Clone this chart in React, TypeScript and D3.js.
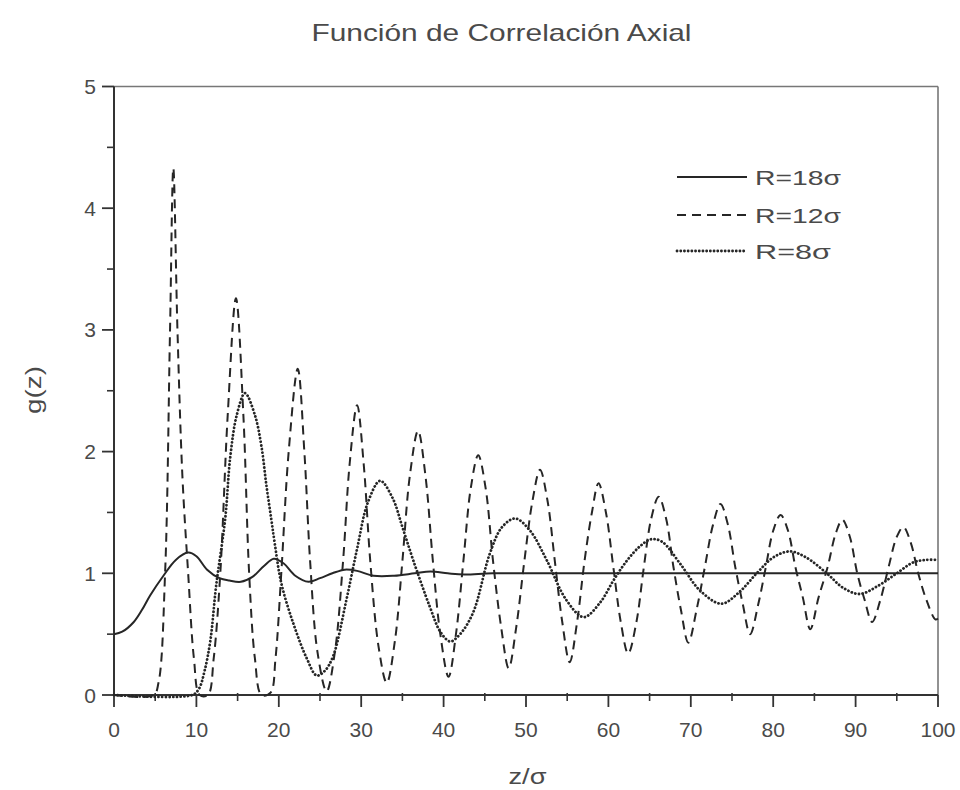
import React from "react";
import * as d3 from "d3";

// Axial correlation function g(z) for three cylinder radii.
const xTickValues = [0, 10, 20, 30, 40, 50, 60, 70, 80, 90, 100];
const xMinorValues = [5, 15, 25, 35, 45, 55, 65, 75, 85, 95];
const yTickValues = [0, 1, 2, 3, 4, 5];
const yMinorValues = [0.5, 1.5, 2.5, 3.5, 4.5];

const seriesNames = ["R=18σ", "R=12σ", "R=8σ"];

// R = 18σ : [z/σ, g(z)]
const r18: [number, number][] = [
  [0, 0.5], [1, 0.52], [2.4, 0.6], [3.4, 0.7], [4.4, 0.82], [6, 0.98], [7.5, 1.11], [9, 1.17],
  [10, 1.14], [11.3, 1.03], [12.8, 0.96], [14, 0.94], [15.4, 0.93], [16.8, 0.97], [18.2, 1.06],
  [19.4, 1.12], [20.6, 1.08], [22, 0.98], [23.6, 0.93], [25, 0.96], [26.5, 1.0], [28, 1.03],
  [29.5, 1.02], [31.5, 0.98], [34, 0.98], [36.5, 1.0], [38.4, 1.015], [40.5, 1.0], [42.5, 0.99],
  [46, 1.0], [55, 1.0], [70, 1.0], [85, 1.0], [100, 1.0],
];

// R = 12σ : [z/σ, g(z)]
const r12: [number, number][] = [
  [0, 0], [4.8, 0], [5.4, 0.1], [6.2, 1.0], [6.8, 3.0], [7.2, 4.33], [7.7, 3.0], [8.3, 1.8],
  [9.0, 1.0], [9.7, 0.3], [10.4, 0], [11.4, 0], [12.1, 0.3], [12.9, 1.0], [13.8, 2.3],
  [14.8, 3.26], [15.7, 2.3], [16.4, 1.0], [17.1, 0.3], [17.9, 0], [19.0, 0.02], [19.6, 0.3],
  [20.3, 1.0], [21.2, 2.0], [22.3, 2.68], [23.1, 2.0], [23.8, 1.1], [24.7, 0.35], [25.8, 0.03],
  [26.8, 0.35], [27.8, 1.1], [28.6, 1.9], [29.5, 2.38], [30.3, 1.9], [31.1, 1.1], [32.1, 0.4],
  [33.1, 0.1], [34.1, 0.45], [35.0, 1.1], [35.9, 1.8], [36.9, 2.17], [37.8, 1.8], [38.7, 1.1],
  [39.6, 0.5], [40.6, 0.15], [41.5, 0.5], [42.4, 1.1], [43.3, 1.7], [44.2, 1.97], [45.1, 1.7],
  [46.0, 1.1], [47.0, 0.55], [47.9, 0.22], [48.8, 0.55], [49.8, 1.1], [50.8, 1.6], [51.7, 1.85],
  [52.6, 1.6], [53.5, 1.1], [54.4, 0.6], [55.3, 0.27], [56.2, 0.6], [57.1, 1.1], [58.0, 1.5],
  [58.8, 1.74], [59.7, 1.5], [60.6, 1.05], [61.5, 0.6], [62.4, 0.34], [63.4, 0.6], [64.3, 1.05],
  [65.2, 1.45], [66.1, 1.63], [67.0, 1.45], [67.9, 1.05], [68.8, 0.7], [69.7, 0.43], [70.7, 0.7],
  [71.7, 1.05], [72.7, 1.4], [73.6, 1.57], [74.5, 1.4], [75.4, 1.05], [76.3, 0.75], [77.2, 0.5],
  [78.2, 0.75], [79.1, 1.05], [80.0, 1.35], [80.9, 1.48], [81.8, 1.35], [82.7, 1.05], [83.6, 0.8],
  [84.5, 0.54], [85.5, 0.8], [86.6, 1.05], [87.6, 1.33], [88.4, 1.44], [89.3, 1.3], [90.2, 1.0],
  [91.1, 0.78], [92.0, 0.6], [93.0, 0.78], [94.0, 1.05], [95.0, 1.3], [95.8, 1.38], [96.7, 1.25],
  [97.6, 1.0], [98.6, 0.78], [99.7, 0.62], [100, 0.63],
];

// R = 8σ : [z/σ, g(z)]
const r8: [number, number][] = [
  [0, 0], [9.5, 0], [10.3, 0.05], [11.0, 0.2], [11.7, 0.45], [12.4, 0.9], [13.5, 1.45],
  [14.1, 1.95], [14.9, 2.3], [15.9, 2.48], [17.1, 2.3], [17.9, 2.04], [18.5, 1.72], [19.1, 1.44],
  [19.5, 1.25], [20.3, 0.92], [21.8, 0.58], [23.4, 0.3], [24.6, 0.16], [25.6, 0.2], [26.6, 0.32],
  [28.2, 0.78], [29.5, 1.2], [30.8, 1.58], [32.3, 1.76], [33.8, 1.62], [35.0, 1.38], [36.3, 1.11],
  [38.3, 0.73], [39.6, 0.52], [40.8, 0.44], [42.0, 0.5], [43.6, 0.68], [45.6, 1.16], [47.1, 1.38],
  [48.7, 1.45], [50.5, 1.35], [52.5, 1.11], [54.9, 0.78], [57.0, 0.64], [59.0, 0.76], [60.6, 0.94],
  [62.2, 1.1], [63.8, 1.22], [65.2, 1.28], [66.5, 1.26], [68.7, 1.08], [71.1, 0.86], [73.7, 0.75],
  [75.8, 0.84], [78.0, 1.0], [80.0, 1.13], [82.0, 1.18], [84.0, 1.13], [86.5, 1.0], [88.5, 0.88],
  [90.5, 0.83], [92.8, 0.9], [95.0, 1.0], [97.0, 1.09], [98.5, 1.11], [100, 1.11],
];

const W = 960;
const H = 790;
const plot = { left: 114, right: 938, top: 86.5, bottom: 695 };

const FONT = "'Liberation Sans', Arial, Helvetica, sans-serif";
const TEXT = "#4a4a4a";
const INK = "#262626";

export default function App() {
  const x = d3.scaleLinear().domain([0, 100]).range([plot.left, plot.right]);
  const y = d3.scaleLinear().domain([0, 5]).range([plot.bottom, plot.top]);

  const line = d3
    .line<[number, number]>()
    .x((d) => x(d[0]))
    .y((d) => y(d[1]))
    .curve(d3.curveCatmullRom.alpha(0.5));

  const styles = [
    { data: r18, dash: undefined as string | undefined, width: 2, cap: "butt" as const },
    { data: r12, dash: "9 6", width: 2, cap: "butt" as const },
    { data: r8, dash: "0.1 3.6", width: 2.8, cap: "round" as const },
  ];

  const legendX0 = 677;
  const legendX1 = 747;
  const legendRows = [177, 215, 251];
  const legendWidths = [86, 86, 76];

  return (
    <svg
      width={W}
      height={H}
      viewBox={`0 0 ${W} ${H}`}
      style={{ position: "absolute", left: 0, top: 0, background: "#fff" }}
      fontFamily={FONT}
    >
      <rect x={0} y={0} width={W} height={H} fill="#fff" />

      {/* title */}
      <text
        x={501.5}
        y={41}
        textAnchor="middle"
        fontSize={24}
        fill={TEXT}
        textLength={380}
        lengthAdjust="spacingAndGlyphs"
      >
        Función de Correlación Axial
      </text>

      {/* frame */}
      <line x1={plot.left} x2={plot.right} y1={plot.top} y2={plot.top} stroke="#777" strokeWidth={1.6} />
      <line x1={plot.right} x2={plot.right} y1={plot.top} y2={plot.bottom} stroke="#777" strokeWidth={1.6} />
      <line x1={plot.left} x2={plot.left} y1={plot.top} y2={plot.bottom + 1} stroke="#333" strokeWidth={2} />
      <line x1={plot.left - 1} x2={plot.right} y1={plot.bottom} y2={plot.bottom} stroke="#333" strokeWidth={2} />

      {/* x ticks */}
      {xTickValues.map((t) => (
        <g key={`xt${t}`}>
          <line x1={x(t)} x2={x(t)} y1={plot.bottom} y2={plot.bottom + 12} stroke="#333" strokeWidth={1.8} />
          <text x={x(t)} y={737} textAnchor="middle" fontSize={21} fill={TEXT}>
            {t}
          </text>
        </g>
      ))}
      {xMinorValues.map((t) => (
        <line key={`xm${t}`} x1={x(t)} x2={x(t)} y1={plot.bottom - 2} y2={plot.bottom + 6} stroke="#333" strokeWidth={1.6} />
      ))}

      {/* y ticks */}
      {yTickValues.map((t) => (
        <g key={`yt${t}`}>
          <line x1={plot.left - 12} x2={plot.left} y1={y(t)} y2={y(t)} stroke="#333" strokeWidth={1.8} />
          <text x={96} y={y(t) + 7.5} textAnchor="end" fontSize={21} fill={TEXT}>
            {t}
          </text>
        </g>
      ))}
      {yMinorValues.map((t) => (
        <line key={`ym${t}`} x1={plot.left - 7} x2={plot.left} y1={y(t)} y2={y(t)} stroke="#333" strokeWidth={1.6} />
      ))}

      {/* axis titles */}
      <text x={527.5} y={784} textAnchor="middle" fontSize={22} fill={TEXT} textLength={38} lengthAdjust="spacingAndGlyphs">
        z/σ
      </text>
      <text
        transform={`translate(41, 390) rotate(-90)`}
        textAnchor="middle"
        fontSize={22}
        fill={TEXT}
        textLength={48}
        lengthAdjust="spacingAndGlyphs"
      >
        g(z)
      </text>

      {/* curves */}
      {styles.map((s, i) => (
        <path
          key={`c${i}`}
          d={line(s.data) ?? ""}
          fill="none"
          stroke={INK}
          strokeWidth={s.width}
          strokeDasharray={s.dash}
          strokeLinecap={s.cap}
          strokeLinejoin="round"
        />
      ))}

      {/* legend */}
      {seriesNames.map((name, i) => (
        <g key={`lg${i}`}>
          <line
            x1={legendX0}
            x2={legendX1}
            y1={legendRows[i]}
            y2={legendRows[i]}
            stroke={INK}
            strokeWidth={styles[i].width}
            strokeDasharray={styles[i].dash}
            strokeLinecap={styles[i].cap}
          />
          <text
            x={755}
            y={legendRows[i] + 8}
            fontSize={21}
            fill={TEXT}
            textLength={legendWidths[i]}
            lengthAdjust="spacingAndGlyphs"
          >
            {name}
          </text>
        </g>
      ))}
    </svg>
  );
}
